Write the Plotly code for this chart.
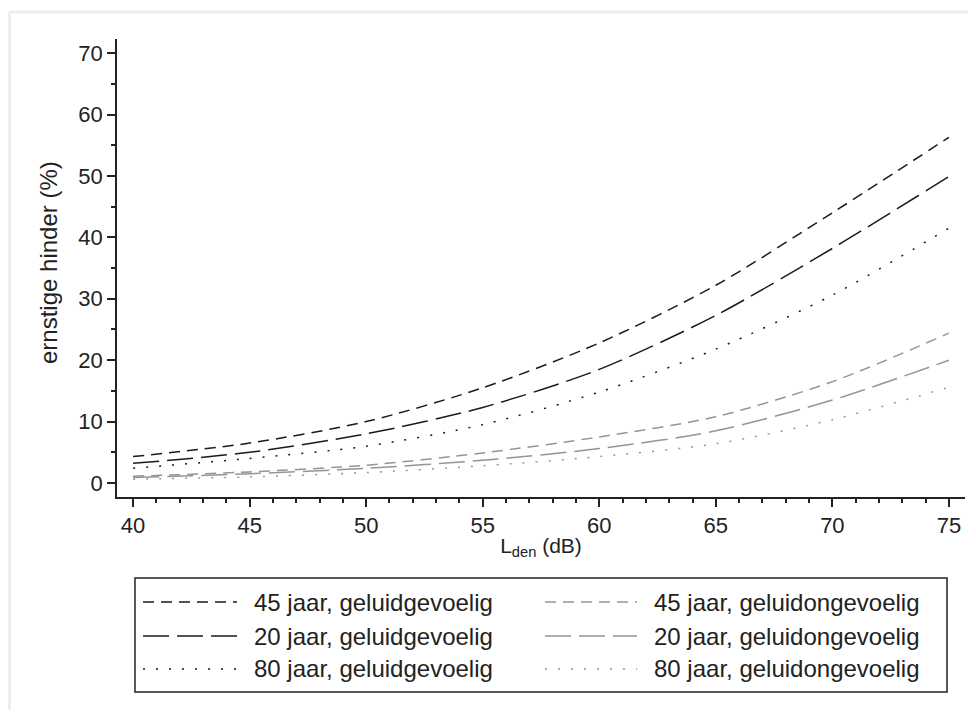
import plotly.graph_objects as go

# Data (L_den in dB, ernstige hinder in %)
lden = [40, 45, 50, 55, 60, 65, 70, 75]

g45_gevoelig = [4.3, 6.5, 10.0, 15.5, 22.8, 32.2, 44.0, 56.3]
g20_gevoelig = [3.2, 5.0, 8.0, 12.3, 18.5, 27.3, 38.2, 49.9]
g80_gevoelig = [2.4, 4.0, 6.0, 9.5, 14.8, 21.8, 30.6, 41.5]
g45_ongevoelig = [1.1, 1.8, 2.9, 4.9, 7.5, 10.8, 16.5, 24.4]
g20_ongevoelig = [0.9, 1.5, 2.4, 3.7, 5.6, 8.5, 13.5, 20.0]
g80_ongevoelig = [0.6, 1.0, 1.7, 2.8, 4.3, 6.4, 10.3, 15.6]

names = [
    "45 jaar, geluidgevoelig", "20 jaar, geluidgevoelig", "80 jaar, geluidgevoelig",
    "45 jaar, geluidongevoelig", "20 jaar, geluidongevoelig", "80 jaar, geluidongevoelig",
]
series = [g45_gevoelig, g20_gevoelig, g80_gevoelig,
          g45_ongevoelig, g20_ongevoelig, g80_ongevoelig]

x_ticks = [40, 45, 50, 55, 60, 65, 70, 75]
y_ticks = [0, 10, 20, 30, 40, 50, 60, 70]

BLACK = "#1a1a1a"
GRAY = "#959595"
dashes = ["11px,7px", "26px,8px", "2px,11px"]
colors = [BLACK, BLACK, BLACK, GRAY, GRAY, GRAY]
styles = [dashes[0], dashes[1], dashes[2], dashes[0], dashes[1], dashes[2]]

FONT = "Liberation Sans, Arial, sans-serif"
TXT = "#222222"

fig = go.Figure()
for name, ys, c, d in zip(names, series, colors, styles):
    fig.add_trace(go.Scatter(
        x=lden, y=ys, mode="lines", name=name,
        line=dict(color=c, width=1.5, dash=d, shape="spline", smoothing=0.8),
        showlegend=False,
    ))

fig.update_layout(
    width=960, height=702,
    margin=dict(l=109, r=3, t=31, b=213),
    paper_bgcolor="white", plot_bgcolor="white",
    font=dict(family=FONT, color=TXT, size=22),
    xaxis=dict(
        range=[39.31, 75.69], tickvals=x_ticks, ticks="outside", ticklen=8,
        tickcolor="#222", tickwidth=1.5, showline=True, linecolor="#222",
        linewidth=1.5, showgrid=False, zeroline=False,
        minor=dict(dtick=1, tick0=40, ticks="outside", ticklen=4,
                   tickcolor="#222", tickwidth=1.5, showgrid=False),
        tickfont=dict(size=22, color=TXT),
        title=dict(text="L<sub>den</sub> (dB)", font=dict(size=21, color=TXT),
                   standoff=1),
    ),
    yaxis=dict(
        range=[-2.28, 72.3], tickvals=y_ticks, ticks="outside", ticklen=8,
        tickcolor="#222", tickwidth=1.5, showline=True, linecolor="#222",
        linewidth=1.5, showgrid=False, zeroline=False,
        minor=dict(dtick=5, tick0=0, ticks="outside", ticklen=4,
                   tickcolor="#222", tickwidth=1.5, showgrid=False),
        tickfont=dict(size=22, color=TXT),
    ),
)

shapes = []
# light outer frame (top and left)
shapes.append(dict(type="line", xref="paper", yref="paper", x0=-0.1268, x1=1.02,
                   y0=1.059, y1=1.059, line=dict(color="#e9f0f0", width=3)))
shapes.append(dict(type="line", xref="paper", yref="paper", x0=-0.1268, x1=-0.1268,
                   y0=1.059, y1=-0.49, line=dict(color="#e9f0f0", width=3)))
# legend box
shapes.append(dict(type="rect", xref="paper", yref="paper", x0=0.0212, x1=0.9788,
                   y0=-0.1769, y1=-0.4258, line=dict(color="#222", width=1.5),
                   fillcolor="rgba(0,0,0,0)"))

annotations = [
    dict(xref="paper", yref="paper", x=-0.0814, y=0.513, text="ernstige hinder (%)",
         textangle=-90, showarrow=False, xanchor="center", yanchor="middle",
         font=dict(size=24, color=TXT, family=FONT)),
]

row_y = [-0.2293, -0.3035, -0.3755]
cols = [(0.0307, 0.1415, 0.1592), (0.5047, 0.6132, 0.6309)]
for i, (name, c, d) in enumerate(zip(names, colors, styles)):
    col = cols[i // 3]
    ry = row_y[i % 3]
    shapes.append(dict(type="line", xref="paper", yref="paper", x0=col[0], x1=col[1],
                       y0=ry, y1=ry, line=dict(color=c, width=1.5, dash=d)))
    annotations.append(dict(xref="paper", yref="paper", x=col[2], y=ry, text=name,
                            showarrow=False, xanchor="left", yanchor="middle",
                            font=dict(size=24, color=TXT, family=FONT)))

fig.update_layout(shapes=shapes, annotations=annotations)
fig.write_html("out.html")
